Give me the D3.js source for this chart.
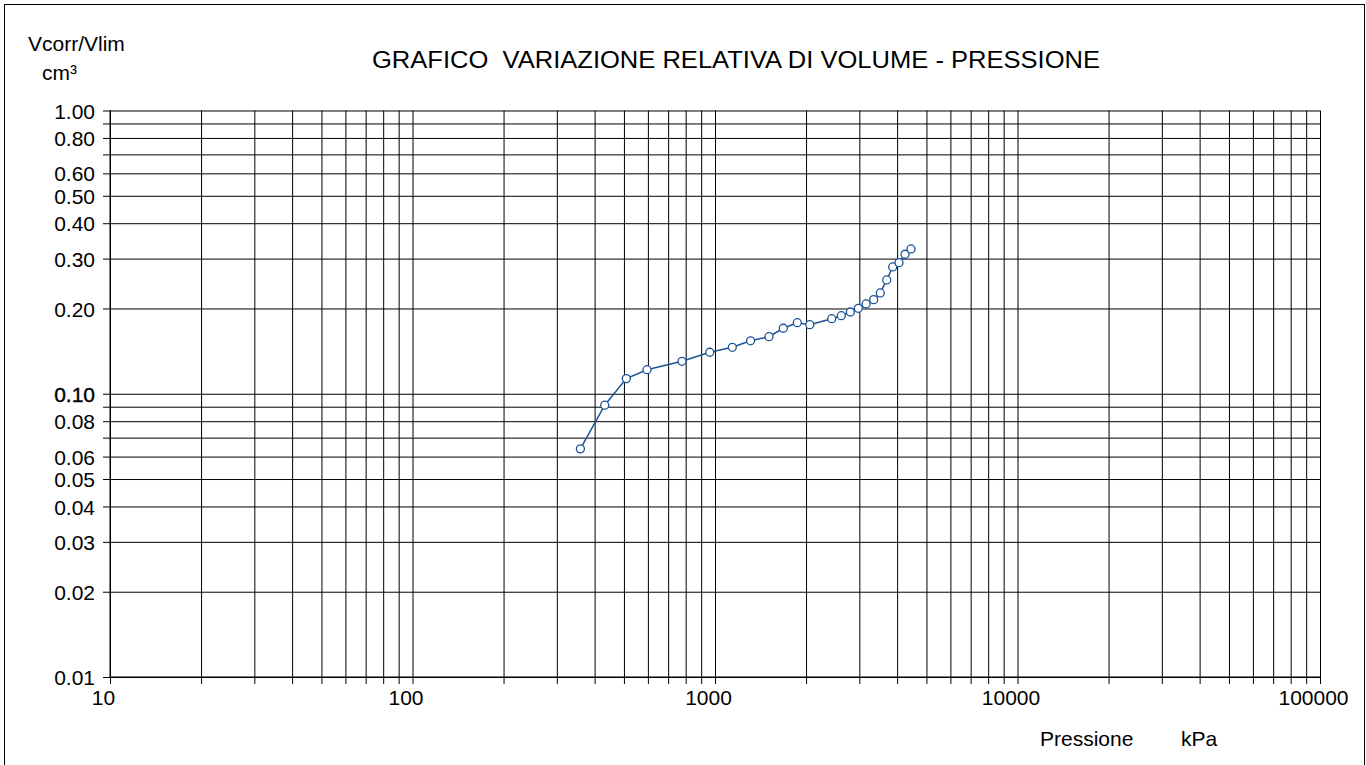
<!DOCTYPE html>
<html>
<head>
<meta charset="utf-8">
<script src="https://cdn.jsdelivr.net/npm/d3@7"></script>
<style>
	body { margin:0; background:#fff; }
	svg { display:block; font-family:"Liberation Sans", Arial, sans-serif; }
	.grid line { stroke:#000; stroke-width:1; }
	.grid path { display:none; }
	.grid text { font-size:21px; fill:#000; font-family:"Liberation Sans", Arial, sans-serif; }
	.label { font-size:21px; fill:#000; }
</style>
</head>
<body>
<svg width="1366" height="765"></svg>
<script>
(function() {

	// DATA
	var pressione = [359, 432, 509, 596, 778, 961, 1141, 1311, 1508, 1682, 1871, 2057,
		2431, 2616, 2802, 2977, 3157, 3346, 3518, 3695, 3867, 4057, 4248, 4446];
	var vRel = [0.0639, 0.0911, 0.1131, 0.1216, 0.1302, 0.1401, 0.1459, 0.1538, 0.1590, 0.1703, 0.1782, 0.1754,
		0.1841, 0.1886, 0.1944, 0.2003, 0.2075, 0.2149, 0.2269, 0.2522, 0.2803, 0.2903, 0.3108, 0.3245];

	var yGrid = [1, 0.9, 0.8, 0.7, 0.6, 0.5, 0.4, 0.3, 0.2, 0.1, 0.09, 0.08, 0.07, 0.06, 0.05, 0.04, 0.03, 0.02, 0.01];
	var yLabels = [1, 0.8, 0.6, 0.5, 0.4, 0.3, 0.2, 0.1, 0.08, 0.06, 0.05, 0.04, 0.03, 0.02, 0.01];
	var xLabels = [10, 100, 1000, 10000, 100000];

	var title = 'GRAFICO  VARIAZIONE RELATIVA DI VOLUME - PRESSIONE';
	var lineColor = '#1b5496';

	var margin = { top:110.5, left:110, right:46, bottom:88 };
	var svg = d3.select('svg');
	var width = 1366 - margin.left - margin.right;
	var height = 765 - margin.top - margin.bottom;

	// x gridlines: 1..9 per decade
	var xGrid = [];
	for (var e = 1; e < 5; e++) {
		for (var m = 1; m < 10; m++) xGrid.push(m * Math.pow(10, e));
	}
	xGrid.push(100000);

	var x = d3.scaleLog().domain([10, 100000]).range([0, width]);
	var y = d3.scaleLog().domain([0.01, 1]).range([height, 0]);

	// outer frame
	svg.append('rect')
		.attr('x', 4.5).attr('y', 4.5)
		.attr('width', 1360).attr('height', 800)
		.attr('fill', 'none')
		.attr('stroke', '#000')

	var g = svg.append('g')
		.attr('transform', 'translate(' + margin.left + ',' + margin.top + ')');

	// horizontal grid
	g.append('g')
		.attr('class', 'grid grid--y')
		.call(d3.axisLeft(y)
			.tickValues(yGrid)
			.tickSizeOuter(0)
			.tickFormat(function(d) { return yLabels.indexOf(d) >= 0 ? d3.format('.2f')(d) : ''; }))
		.selectAll('.tick line')
		.attr('x1', -7)
		.attr('x2', width)
		.attr('stroke-width', function(d) { return d === 0.1 ? 1.8 : 1; });

	g.selectAll('.grid--y .tick text')
		.attr('x', -15)
		.attr('dy', '0.36em')
		.attr('stroke', function(d) { return d === 0.1 ? '#000' : null; })
		.attr('stroke-width', 0.4);

	// vertical grid
	g.append('g')
		.attr('class', 'grid grid--x')
		.attr('transform', 'translate(0,' + height + ')')
		.call(d3.axisBottom(x)
			.tickValues(xGrid)
			.tickSizeOuter(0)
			.tickFormat(function(d) { return xLabels.indexOf(d) >= 0 ? d : ''; }))
		.selectAll('.tick line')
		.attr('y1', 7)
		.attr('y2', -height)
		.attr('stroke-width', function(d) { return d === 1000 ? 1.6 : 1; });

	g.selectAll('.grid--x .tick text')
		.attr('x', -7)
		.attr('y', 28)
		.attr('dy', 0);

	// axis lines
	g.append('line')
		.attr('x1', 0).attr('x2', 0)
		.attr('y1', 0).attr('y2', height)
		.attr('stroke', '#000');
	g.append('line')
		.attr('x1', 0).attr('x2', width)
		.attr('y1', height).attr('y2', height)
		.attr('stroke', '#000');

	// series
	var points = pressione.map(function(p, i) { return { p:p, v:vRel[i] }; });

	var line = d3.line()
		.x(function(d) { return x(d.p); })
		.y(function(d) { return y(d.v); });

	g.append('path')
		.datum(points)
		.attr('d', line)
		.attr('fill', 'none')
		.attr('stroke', lineColor)
		.attr('stroke-width', 1.5);

	g.selectAll('.dot')
		.data(points)
		.enter()
		.append('circle')
		.attr('class', 'dot')
		.attr('cx', function(d) { return x(d.p); })
		.attr('cy', function(d) { return y(d.v); })
		.attr('r', 4)
		.attr('fill', '#fff')
		.attr('stroke', lineColor)
		.attr('stroke-width', 1.3);

	// texts
	svg.append('text')
		.attr('class', 'label')
		.attr('x', 372).attr('y', 68)
		.attr('textLength', 728)
		.attr('lengthAdjust', 'spacingAndGlyphs')
		.attr('xml:space', 'preserve')
		.style('white-space', 'pre')
		.style('font-size', '23px')
		.text(title);

	svg.append('text')
		.attr('class', 'label')
		.attr('x', 28).attr('y', 51)
		.text('Vcorr/Vlim');

	svg.append('text')
		.attr('class', 'label')
		.attr('x', 42).attr('y', 80)
		.text('cm³');

	svg.append('text')
		.attr('class', 'label')
		.attr('x', 1040).attr('y', 746)
		.text('Pressione');

	svg.append('text')
		.attr('class', 'label')
		.attr('x', 1181).attr('y', 746)
		.text('kPa');

})()
</script>
</body>
</html>
